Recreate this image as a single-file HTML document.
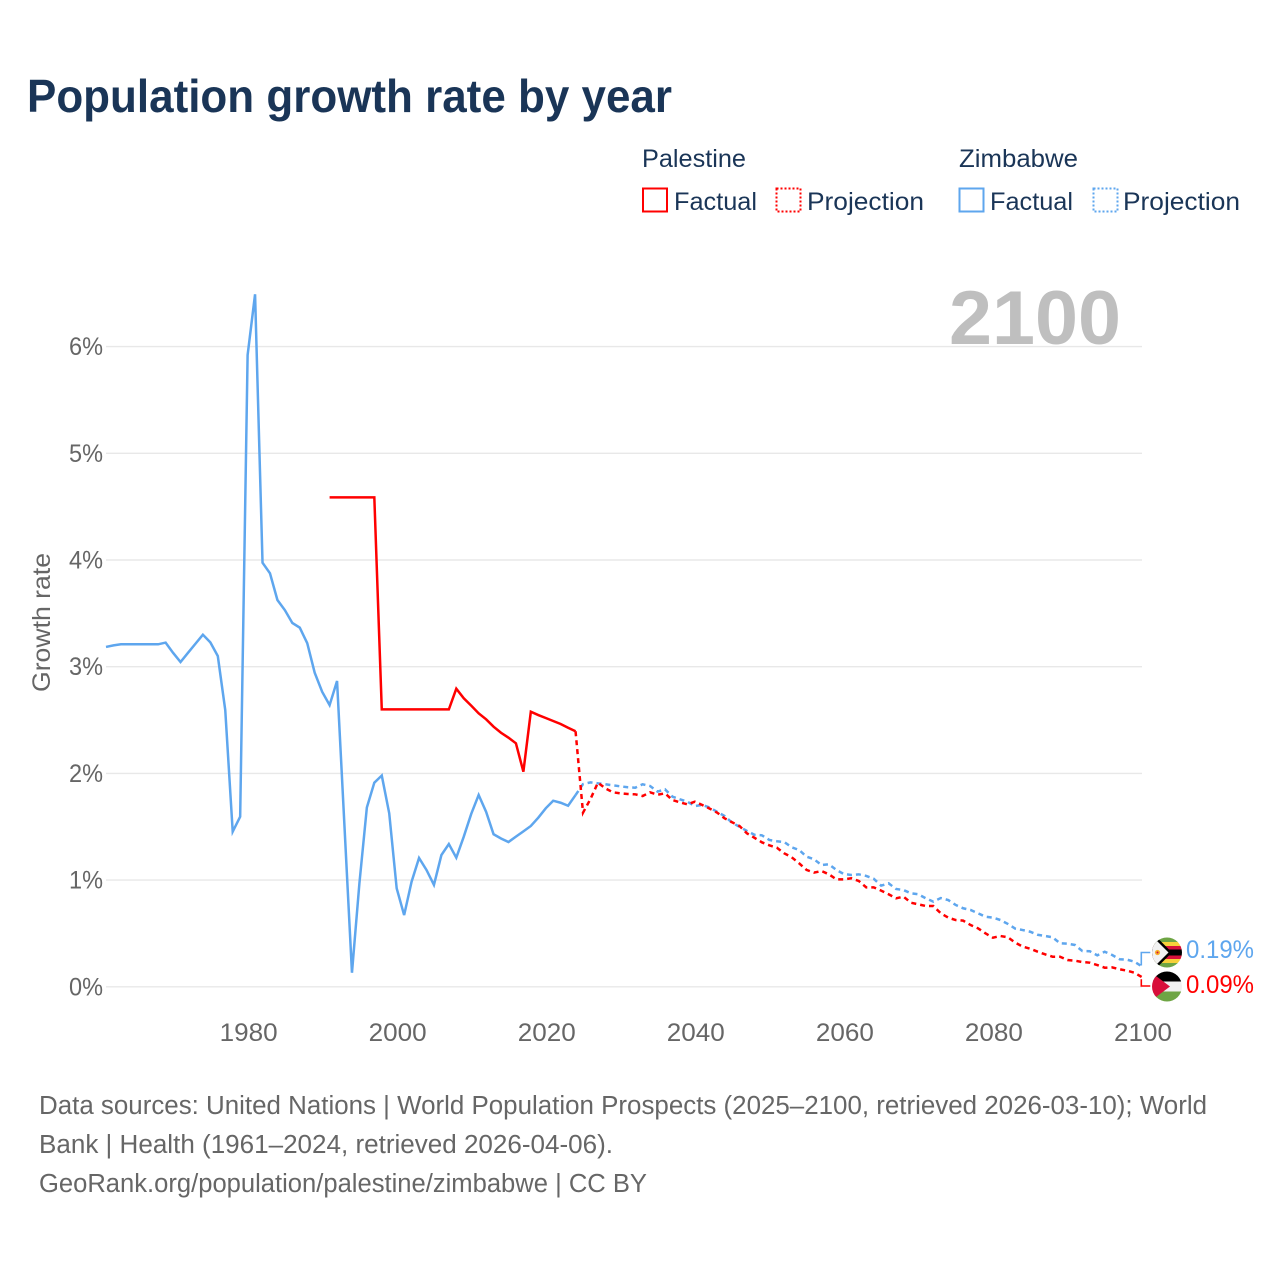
<!DOCTYPE html>
<html lang="en">
<head>
<meta charset="utf-8">
<title>Population growth rate by year</title>
<style>
html,body{margin:0;padding:0;background:#fff;}
svg{display:block;}
text{font-family:"Liberation Sans",sans-serif;}
</style>
</head>
<body>
<svg id="chart" width="1280" height="1280" viewBox="0 0 1280 1280" xmlns="http://www.w3.org/2000/svg">
  <defs>
    <clipPath id="clip-zim"><circle cx="1167" cy="952.5" r="15"/></clipPath>
    <clipPath id="clip-pal"><circle cx="1167" cy="986.5" r="15"/></clipPath>
  </defs>

  <text x="27" y="112" font-size="46.5" font-weight="700" fill="#1a3557" textLength="645" lengthAdjust="spacingAndGlyphs">Population growth rate by year</text>

  <g font-size="25" fill="#1a3557">
    <text x="642" y="167" textLength="104" lengthAdjust="spacingAndGlyphs">Palestine</text>
    <text x="959" y="167" textLength="119" lengthAdjust="spacingAndGlyphs">Zimbabwe</text>
    <rect x="643" y="188.5" width="24" height="23" fill="none" stroke="#ff0000" stroke-width="2"/>
    <text x="674" y="210" textLength="83" lengthAdjust="spacingAndGlyphs">Factual</text>
    <rect x="776.5" y="188.5" width="24" height="23" fill="none" stroke="#ff0000" stroke-width="2" stroke-dasharray="2 2"/>
    <text x="807" y="210" textLength="117" lengthAdjust="spacingAndGlyphs">Projection</text>
    <rect x="959.5" y="188.5" width="24" height="23" fill="none" stroke="#5ea6ee" stroke-width="2"/>
    <text x="990" y="210" textLength="83" lengthAdjust="spacingAndGlyphs">Factual</text>
    <rect x="1093.5" y="188.5" width="24" height="23" fill="none" stroke="#5ea6ee" stroke-width="2" stroke-dasharray="2 2"/>
    <text x="1123" y="210" textLength="117" lengthAdjust="spacingAndGlyphs">Projection</text>
  </g>

  <g id="grid"></g>

  <text x="949" y="344" font-size="76" font-weight="700" fill="#bfbfbf" textLength="172" lengthAdjust="spacingAndGlyphs">2100</text>

  <g id="y-axis"></g>
  <g id="x-axis"></g>
  <text transform="translate(50,622.5) rotate(-90)" text-anchor="middle" font-size="25" fill="#666666" textLength="139" lengthAdjust="spacingAndGlyphs">Growth rate</text>

  <g id="series"></g>

  <g clip-path="url(#clip-zim)">
    <rect x="1152" y="937.5" width="30" height="30" fill="#f2f2f2"/>
    <rect x="1152" y="937.5" width="30" height="5" fill="#6ea544"/>
    <rect x="1152" y="942" width="30" height="4" fill="#f7d13a"/>
    <rect x="1152" y="946" width="30" height="3.5" fill="#d8113a"/>
    <rect x="1152" y="949.5" width="30" height="6" fill="#000000"/>
    <rect x="1152" y="955.5" width="30" height="3.5" fill="#d8113a"/>
    <rect x="1152" y="959" width="30" height="4" fill="#f7d13a"/>
    <rect x="1152" y="963" width="30" height="5" fill="#6ea544"/>
    <polygon points="1150,937.5 1157,937.5 1172,952.5 1157,967.5 1150,967.5" fill="#000000"/>
    <polygon points="1150,939.5 1155.5,939.5 1168.5,952.5 1155.5,965.5 1150,965.5" fill="#f2f2f2"/>
    <circle cx="1157.5" cy="952.5" r="2.6" fill="#f7b32b"/>
    <circle cx="1157.5" cy="952.5" r="1" fill="#d8113a"/>
  </g>
  <g clip-path="url(#clip-pal)">
    <rect x="1152" y="971.5" width="30" height="10" fill="#000000"/>
    <rect x="1152" y="981.5" width="30" height="10" fill="#f0f0f0"/>
    <rect x="1152" y="991.5" width="30" height="10" fill="#6ea544"/>
    <polygon points="1150,971.5 1170,986.5 1150,1001.5" fill="#d80f3a"/>
  </g>

  <text id="end-label-zimbabwe" x="1186" y="958" font-size="25" fill="#5ea6ee" textLength="68" lengthAdjust="spacingAndGlyphs"></text>
  <text id="end-label-palestine" x="1186" y="993" font-size="25" fill="#ff0000" textLength="68" lengthAdjust="spacingAndGlyphs"></text>

  <g font-size="25.5" fill="#666666">
    <text x="39" y="1114" textLength="1168" lengthAdjust="spacingAndGlyphs">Data sources: United Nations | World Population Prospects (2025–2100, retrieved 2026-03-10); World</text>
    <text x="39" y="1153" textLength="574" lengthAdjust="spacingAndGlyphs">Bank | Health (1961–2024, retrieved 2026-04-06).</text>
    <text x="39" y="1192" textLength="608" lengthAdjust="spacingAndGlyphs">GeoRank.org/population/palestine/zimbabwe | CC BY</text>
  </g>
</svg>

<script>
const xTickYears = [1980, 2000, 2020, 2040, 2060, 2080, 2100];
const yTickValues = [0, 1, 2, 3, 4, 5, 6];
const yTickLabels = ['0%', '1%', '2%', '3%', '4%', '5%', '6%'];

const zimbabweFactualStart = 1961;
const zimbabweFactual = [3.185, 3.2, 3.21, 3.21, 3.21, 3.21, 3.21, 3.21, 3.226, 3.13,
  3.044, 3.13, 3.215, 3.3, 3.228, 3.1, 2.594, 1.454, 1.594, 5.92,
  6.49, 3.975, 3.875, 3.625, 3.53, 3.41, 3.366, 3.22, 2.944, 2.766,
  2.64, 2.866, 1.5, 0.132, 0.97, 1.68, 1.913, 1.98, 1.626, 0.923,
  0.672, 0.985, 1.207, 1.095, 0.955, 1.235, 1.338, 1.21, 1.407, 1.62,
  1.798, 1.64, 1.43, 1.39, 1.357, 1.407, 1.457, 1.507, 1.585, 1.673,
  1.744, 1.725, 1.697, 1.797];

const palestineFactualStart = 1991;
const palestineFactual = [4.587, 4.587, 4.587, 4.587, 4.587, 4.587, 4.587,
  2.6, 2.6, 2.6, 2.6, 2.6, 2.6, 2.6, 2.6, 2.6, 2.6,
  2.794, 2.704, 2.635, 2.563, 2.507, 2.438, 2.381, 2.335, 2.282, 2.016,
  2.578, 2.547, 2.519, 2.491, 2.463, 2.428, 2.395];

const projectionStart = 2025;
const zimbabweProjection = [1.9, 1.916, 1.907, 1.898, 1.888, 1.879, 1.87, 1.866, 1.898, 1.882,
  1.829, 1.851, 1.782, 1.757, 1.735, 1.694, 1.704, 1.68, 1.64, 1.6,
  1.538, 1.5, 1.46, 1.425, 1.42, 1.376, 1.364, 1.357, 1.307, 1.282,
  1.22, 1.195, 1.141, 1.148, 1.095, 1.057, 1.048, 1.054, 1.039, 1.013,
  0.948, 0.97, 0.917, 0.907, 0.876, 0.867, 0.829, 0.798, 0.832, 0.813,
  0.767, 0.736, 0.72, 0.689, 0.657, 0.648, 0.626, 0.589, 0.545, 0.532,
  0.516, 0.488, 0.476, 0.464, 0.408, 0.404, 0.392, 0.335, 0.333, 0.295,
  0.329, 0.298, 0.258, 0.254, 0.235, 0.19];
const palestineProjection = [1.632, 1.76, 1.913, 1.86, 1.823, 1.813, 1.807, 1.804, 1.788, 1.823,
  1.8, 1.813, 1.75, 1.729, 1.71, 1.735, 1.704, 1.67, 1.632, 1.579,
  1.542, 1.507, 1.438, 1.397, 1.354, 1.326, 1.304, 1.251, 1.214, 1.157,
  1.095, 1.07, 1.085, 1.054, 1.007, 1.007, 1.017, 0.992, 0.932, 0.932,
  0.901, 0.867, 0.829, 0.845, 0.788, 0.773, 0.757, 0.757, 0.689, 0.648,
  0.626, 0.62, 0.579, 0.548, 0.501, 0.46, 0.476, 0.464, 0.414, 0.376,
  0.357, 0.329, 0.304, 0.282, 0.282, 0.251, 0.245, 0.232, 0.226, 0.204,
  0.179, 0.182, 0.164, 0.151, 0.132, 0.09];

const SVG_NS = 'http://www.w3.org/2000/svg';
const BLUE = '#5ea6ee';
const RED = '#ff0000';
const PLOT_LEFT = 106;
const PLOT_RIGHT = 1142;
function xScale(year) { return PLOT_LEFT + (year - 1961) * (PLOT_RIGHT - PLOT_LEFT) / 139; }
function yScale(value) { return 986.8 - value * 106.7; }

const gridLayer = document.getElementById('grid');
const yAxisLayer = document.getElementById('y-axis');
const xAxisLayer = document.getElementById('x-axis');
const seriesLayer = document.getElementById('series');

yTickValues.forEach(function (value, i) {
  const line = document.createElementNS(SVG_NS, 'line');
  
  
  line.setAttribute('x1', PLOT_LEFT);
  line.setAttribute('x2', PLOT_RIGHT);
  line.setAttribute('y1', yScale(value));
  line.setAttribute('y2', yScale(value));
  line.setAttribute('stroke', '#e8e8e8');
  line.setAttribute('stroke-width', '1.4');
  gridLayer.appendChild(line);

  const label = document.createElementNS(SVG_NS, 'text');
  
  
  label.setAttribute('x', 69);
  label.setAttribute('y', yScale(value) + 8.5);
  label.setAttribute('font-size', '25');
  label.setAttribute('fill', '#666666');
  label.setAttribute('textLength', '34');
  label.setAttribute('lengthAdjust', 'spacingAndGlyphs');
  label.textContent = yTickLabels[i];
  yAxisLayer.appendChild(label);
});

xTickYears.forEach(function (year) {
  const label = document.createElementNS(SVG_NS, 'text');
  
  
  label.setAttribute('x', xScale(year) - 28);
  label.setAttribute('y', 1041);
  label.setAttribute('font-size', '25');
  label.setAttribute('fill', '#666666');
  label.setAttribute('textLength', '58');
  label.setAttribute('lengthAdjust', 'spacingAndGlyphs');
  label.textContent = String(year);
  xAxisLayer.appendChild(label);
});

function toPoints(values, startYear) {
  return values.map(function (v, i) {
    return xScale(startYear + i).toFixed(2) + ',' + yScale(v).toFixed(2);
  });
}

function addLine(points, color, dashed, name) {
  const el = document.createElementNS(SVG_NS, 'polyline');
  
  
  el.setAttribute('points', points.join(' '));
  el.setAttribute('fill', 'none');
  el.setAttribute('stroke', color);
  el.setAttribute('stroke-width', '2.5');
  el.setAttribute('stroke-linejoin', 'miter');
  if (dashed) {
    el.setAttribute('stroke-dasharray', '5 4');
  }
  seriesLayer.appendChild(el);
}

const zimFactualPts = toPoints(zimbabweFactual, zimbabweFactualStart);
const palFactualPts = toPoints(palestineFactual, palestineFactualStart);
const zimProjPts = toPoints(zimbabweProjection, projectionStart);
const palProjPts = toPoints(palestineProjection, projectionStart);

addLine(zimFactualPts, BLUE, false, 'zimbabwe-factual-line');
addLine(palFactualPts, RED, false, 'palestine-factual-line');
addLine([zimFactualPts[zimFactualPts.length - 1]].concat(zimProjPts), BLUE, true, 'zimbabwe-projection-line');
addLine([palFactualPts[palFactualPts.length - 1]].concat(palProjPts), RED, true, 'palestine-projection-line');

const zimLast = zimbabweProjection[zimbabweProjection.length - 1];
const palLast = palestineProjection[palestineProjection.length - 1];

function addConnector(value, flagY, color, name) {
  const path = document.createElementNS(SVG_NS, 'polyline');
  
  
  const x = xScale(2100) - 0.7;
  path.setAttribute('points', x + ',' + (yScale(value) + (flagY < yScale(value) ? -1 : 2)) + ' ' + x + ',' + flagY + ' ' + (x + 9) + ',' + flagY);
  path.setAttribute('fill', 'none');
  path.setAttribute('stroke', color);
  path.setAttribute('stroke-width', '1.6');
  seriesLayer.appendChild(path);
}
addConnector(zimLast, 952.5, BLUE, 'zimbabwe-end-connector');
addConnector(palLast, 986, RED, 'palestine-end-connector');

document.getElementById('end-label-zimbabwe').textContent = zimLast.toFixed(2) + '%';
document.getElementById('end-label-palestine').textContent = palLast.toFixed(2) + '%';
</script>
</body>
</html>
